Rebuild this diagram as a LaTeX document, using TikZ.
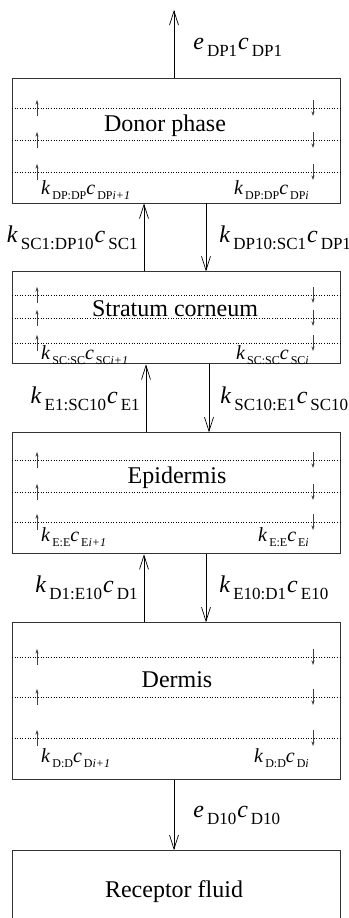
\documentclass[tikz,border=0pt]{standalone}
\usepackage{fontspec}
\setmainfont{Liberation Serif}
\usetikzlibrary{arrows.meta,positioning,calc}
% lowered subscripts, large (between layers) and small (inside a layer)
\newcommand{\lsub}[1]{\hspace{3pt}\raisebox{-7pt}{\fontsize{17}{17}\selectfont #1}}
\newcommand{\ssub}[1]{\hspace{2pt}\raisebox{-5pt}{\fontsize{12}{12}\selectfont #1}}

\begin{document}
\begin{tikzpicture}[x=1pt,y=1pt,node distance=68pt,
 layer/.style={draw=black!80, line width=0.9pt, minimum width=328pt, inner sep=0pt},
 title/.style={font=\fontsize{24}{28}\selectfont},
 rate/.style={font=\fontsize{24}{28}\selectfont, inner sep=1pt},
 inrate/.style={font=\fontsize{20}{24}\selectfont, inner sep=1pt},
 flow/.style={-{Straight Barb[length=14pt,width=9pt]}, line width=0.7pt},
 tick/.style={-{Stealth[length=4.5pt,width=3pt]}, line width=0.5pt, black!75},
 dotline/.style={dotted, line width=0.6pt}]

    \useasboundingbox (0,0) rectangle (348,918);

    % the layers
    \node[layer, minimum height=125pt] (dp) at (176,777.5) {};
    \node[layer, minimum height=92pt, below=of dp] (sc) {};
    \node[layer, minimum height=121pt, below=of sc] (ep) {};
    \node[layer, minimum height=157pt, below=of ep] (de) {};
    \node[layer, minimum height=83pt, below=70pt of de] (rf) {};

    \node[title] (dptitle) at (165,792) {Donor phase};
    \node[title] (sctitle) at (175,609) {Stratum corneum};
    \node[title] (eptitle) at (177,440) {Epidermis};
    \node[title] (detitle) at (177,238) {Dermis};
    \node[title] (rftitle) at (174,26) {Receptor fluid};

    % compartments inside each layer
    \foreach \y in {810,778,746, 623,600,575, 458,426,396, 261,221,180} {
        \draw[dotline] (12,\y) -- (340,\y);
        \draw[tick] (37,\y-8) -- (37,\y+8);
        \draw[tick] (313,\y+8) -- (313,\y-8);
    }

    \node[inrate, anchor=west] (dpup) at (40,728)
        {\textit{k}\ssub{DP:DP}\textit{c}\ssub{DP\textit{i+1}}};
    \node[inrate, anchor=east] (dpdown) at (310,728)
        {\textit{k}\ssub{DP:DP}\textit{c}\ssub{DP\textit{i}}};
    \node[inrate, anchor=west] (scup) at (40,563)
        {\textit{k}\ssub{SC:SC}\textit{c}\ssub{SC\textit{i+1}}};
    \node[inrate, anchor=east] (scdown) at (310,563)
        {\textit{k}\ssub{SC:SC}\textit{c}\ssub{SC\textit{i}}};
    \node[inrate, anchor=west] (epup) at (40,381)
        {\textit{k}\ssub{E:E}\textit{c}\ssub{E\textit{i+1}}};
    \node[inrate, anchor=east] (epdown) at (310,381)
        {\textit{k}\ssub{E:E}\textit{c}\ssub{E\textit{i}}};
    \node[inrate, anchor=west] (deup) at (40,160)
        {\textit{k}\ssub{D:D}\textit{c}\ssub{D\textit{i+1}}};
    \node[inrate, anchor=east] (dedown) at (310,160)
        {\textit{k}\ssub{D:D}\textit{c}\ssub{D\textit{i}}};

    % transfer between the layers
    \coordinate (out) at (174,908);
    \draw[flow] ([xshift=-2pt]dp.north) -- (out)
        node[rate, pos=0.45, right=18pt] (eout) {\textit{e}\lsub{DP1}\hspace{1pt}\textit{c}\lsub{DP1}};

    \draw[flow] ([xshift=-32pt]sc.north) -- ([xshift=-32pt]dp.south)
        node[rate, midway, left=5pt] (ksc) {\textit{k}\lsub{SC1:DP10}\hspace{1pt}\textit{c}\lsub{SC1}};
    \draw[flow] ([xshift=30pt]dp.south) -- ([xshift=30pt]sc.north)
        node[rate, midway, right=12pt] (kdp) {\textit{k}\lsub{DP10:SC1}\hspace{1pt}\textit{c}\lsub{DP10}};

    \draw[flow] ([xshift=-30pt]ep.north) -- ([xshift=-30pt]sc.south)
        node[rate, midway, left=5pt] (ke) {\textit{k}\lsub{E1:SC10}\hspace{1pt}\textit{c}\lsub{E1}};
    \draw[flow] ([xshift=33pt]sc.south) -- ([xshift=33pt]ep.north)
        node[rate, midway, right=10pt] (kscb) {\textit{k}\lsub{SC10:E1}\hspace{1pt}\textit{c}\lsub{SC10}};

    \draw[flow] ([xshift=-32pt]de.north) -- ([xshift=-32pt]ep.south)
        node[rate, midway, left=5pt] (kd) {\textit{k}\lsub{D1:E10}\hspace{1pt}\textit{c}\lsub{D1}};
    \draw[flow] ([xshift=30pt]ep.south) -- ([xshift=30pt]de.north)
        node[rate, midway, right=12pt] (keb) {\textit{k}\lsub{E10:D1}\hspace{1pt}\textit{c}\lsub{E10}};

    \draw[flow] ([xshift=-2pt]de.south) -- ([xshift=-2pt]rf.north)
        node[rate, midway, right=18pt] (eres) {\textit{e}\lsub{D10}\hspace{1pt}\textit{c}\lsub{D10}};

\end{tikzpicture}
\end{document}
